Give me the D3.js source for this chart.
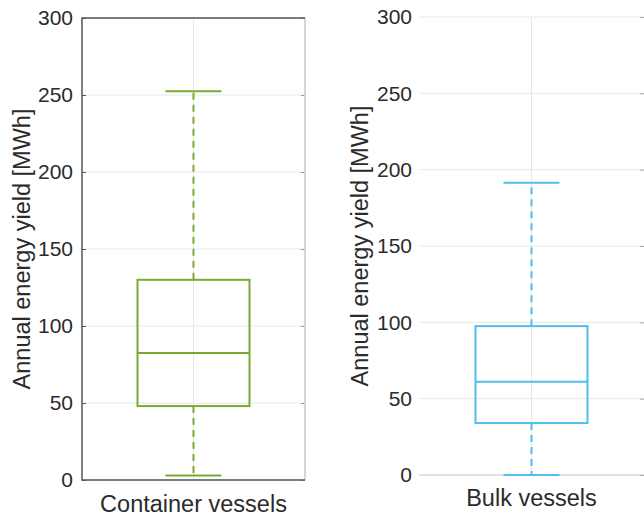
<!DOCTYPE html>
<html>
<head>
<meta charset="utf-8">
<script src="https://cdn.jsdelivr.net/npm/d3@7"></script>
<style>
  body { margin: 0; background: #fff; }
  svg { display: block; }
  text { font-family: "Liberation Sans", Arial, sans-serif; fill: #2b2b2b; }
</style>
</head>
<body>
<div id="chart"></div>
<script>
// values
var categories = ["Container vessels", "Bulk vessels"];
var whiskerLow = [3, 0];
var q1 = [48, 34];
var median = [82.5, 61];
var q3 = [130, 97.5];
var whiskerHigh = [252.5, 191.5];
var yTicks = [0, 50, 100, 150, 200, 250, 300];
var colors = ["#77ac30", "#4dbeee"];

var width = 644, height = 518;

// one panel per category, layout only
var panels = [
    { left: 82, right: 305, top: 18, bottom: 480, tickEnd: 73, ylabX: 22, xlabY: 512, frame: true },
    { left: 419, right: 644, top: 17, bottom: 475, tickEnd: 412, ylabX: 360, xlabY: 506, frame: false }
];

var svg = d3.select("#chart").append("svg")
    .attr("width", width)
    .attr("height", height);

panels.forEach(function (p, i) {
    var y = d3.scaleLinear().domain([0, 300]).range([p.bottom, p.top]);
    var x = d3.scalePoint().domain([categories[i]]).range([p.left, p.right]).padding(0.5);
    var cx = x(categories[i]);
    var g = svg.append("g");

    // grid
    g.append("g").selectAll("line.h")
        .data(yTicks)
        .enter().append("line")
        .attr("x1", p.left).attr("x2", p.right)
        .attr("y1", function (d) { return y(d); })
        .attr("y2", function (d) { return y(d); })
        .style("stroke", function (d) { return (!p.frame && d === 0) ? "#c4c4c4" : "#e8e8e8"; })
        .style("stroke-width", 1);
    g.append("line")
        .attr("x1", cx).attr("x2", cx)
        .attr("y1", p.top).attr("y2", p.bottom)
        .style("stroke", "#e8e8e8");

    // y tick labels
    g.append("g").selectAll("text")
        .data(yTicks)
        .enter().append("text")
        .attr("x", p.tickEnd)
        .attr("y", function (d) { return y(d); })
        .attr("dy", "0.35em")
        .attr("text-anchor", "end")
        .style("font-size", "21px")
        .text(function (d) { return d; });

    if (p.frame) {
        var axis = d3.axisLeft(y).tickValues(yTicks).tickSize(-4).tickFormat("");
        var ax = g.append("g").attr("transform", "translate(" + p.left + ",0)").call(axis);
        ax.select(".domain").remove();
        ax.selectAll("line").style("stroke", "#555");
        var axR = g.append("g").attr("transform", "translate(" + p.right + ",0)")
            .call(d3.axisRight(y).tickValues(yTicks).tickSize(-4).tickFormat(""));
        axR.select(".domain").remove();
        axR.selectAll("line").style("stroke", "#999");
        g.append("line").attr("x1", p.right).attr("x2", p.right).attr("y1", p.top).attr("y2", p.bottom)
            .style("stroke", "#c8c8c8").style("stroke-width", 1.5);
        g.append("path")
            .attr("d", "M" + p.right + "," + p.top + "H" + p.left + "V" + p.bottom + "H" + p.right)
            .style("fill", "none").style("stroke", "#555").style("stroke-width", 1.5);
    } else {
        var axR2 = g.append("g").attr("transform", "translate(" + p.right + ",0)")
            .call(d3.axisRight(y).tickValues(yTicks).tickSize(-4).tickFormat(""));
        axR2.select(".domain").remove();
        axR2.selectAll("line").style("stroke", "#aaa");
    }

    // box plot
    var c = colors[i], bw = 56, cw = 28;
    g.append("line")
        .attr("x1", cx).attr("x2", cx)
        .attr("y1", y(q3[i])).attr("y2", y(whiskerHigh[i]))
        .style("stroke", c).style("stroke-width", 2).style("stroke-dasharray", "7,5");
    g.append("line")
        .attr("x1", cx).attr("x2", cx)
        .attr("y1", y(q1[i])).attr("y2", y(whiskerLow[i]))
        .style("stroke", c).style("stroke-width", 2).style("stroke-dasharray", "7,5");
    [whiskerLow[i], whiskerHigh[i]].forEach(function (v) {
        g.append("line")
            .attr("x1", cx - cw).attr("x2", cx + cw)
            .attr("y1", y(v)).attr("y2", y(v))
            .style("stroke", c).style("stroke-width", 2);
    });
    g.append("rect")
        .attr("x", cx - bw).attr("width", 2 * bw)
        .attr("y", y(q3[i])).attr("height", y(q1[i]) - y(q3[i]))
        .style("fill", "none").style("stroke", c).style("stroke-width", 2);
    g.append("line")
        .attr("x1", cx - bw).attr("x2", cx + bw)
        .attr("y1", y(median[i])).attr("y2", y(median[i]))
        .style("stroke", c).style("stroke-width", 2);

    // labels
    g.append("text")
        .attr("x", cx).attr("y", p.xlabY)
        .attr("text-anchor", "middle")
        .style("font-size", "23.5px")
        .text(categories[i]);
    g.append("text")
        .attr("transform", "translate(" + p.ylabX + "," + ((p.top + p.bottom) / 2) + ") rotate(-90)")
        .attr("text-anchor", "middle")
        .attr("dy", "0.35em")
        .style("font-size", "23.5px")
        .text("Annual energy yield [MWh]");
});
</script>
</body>
</html>
